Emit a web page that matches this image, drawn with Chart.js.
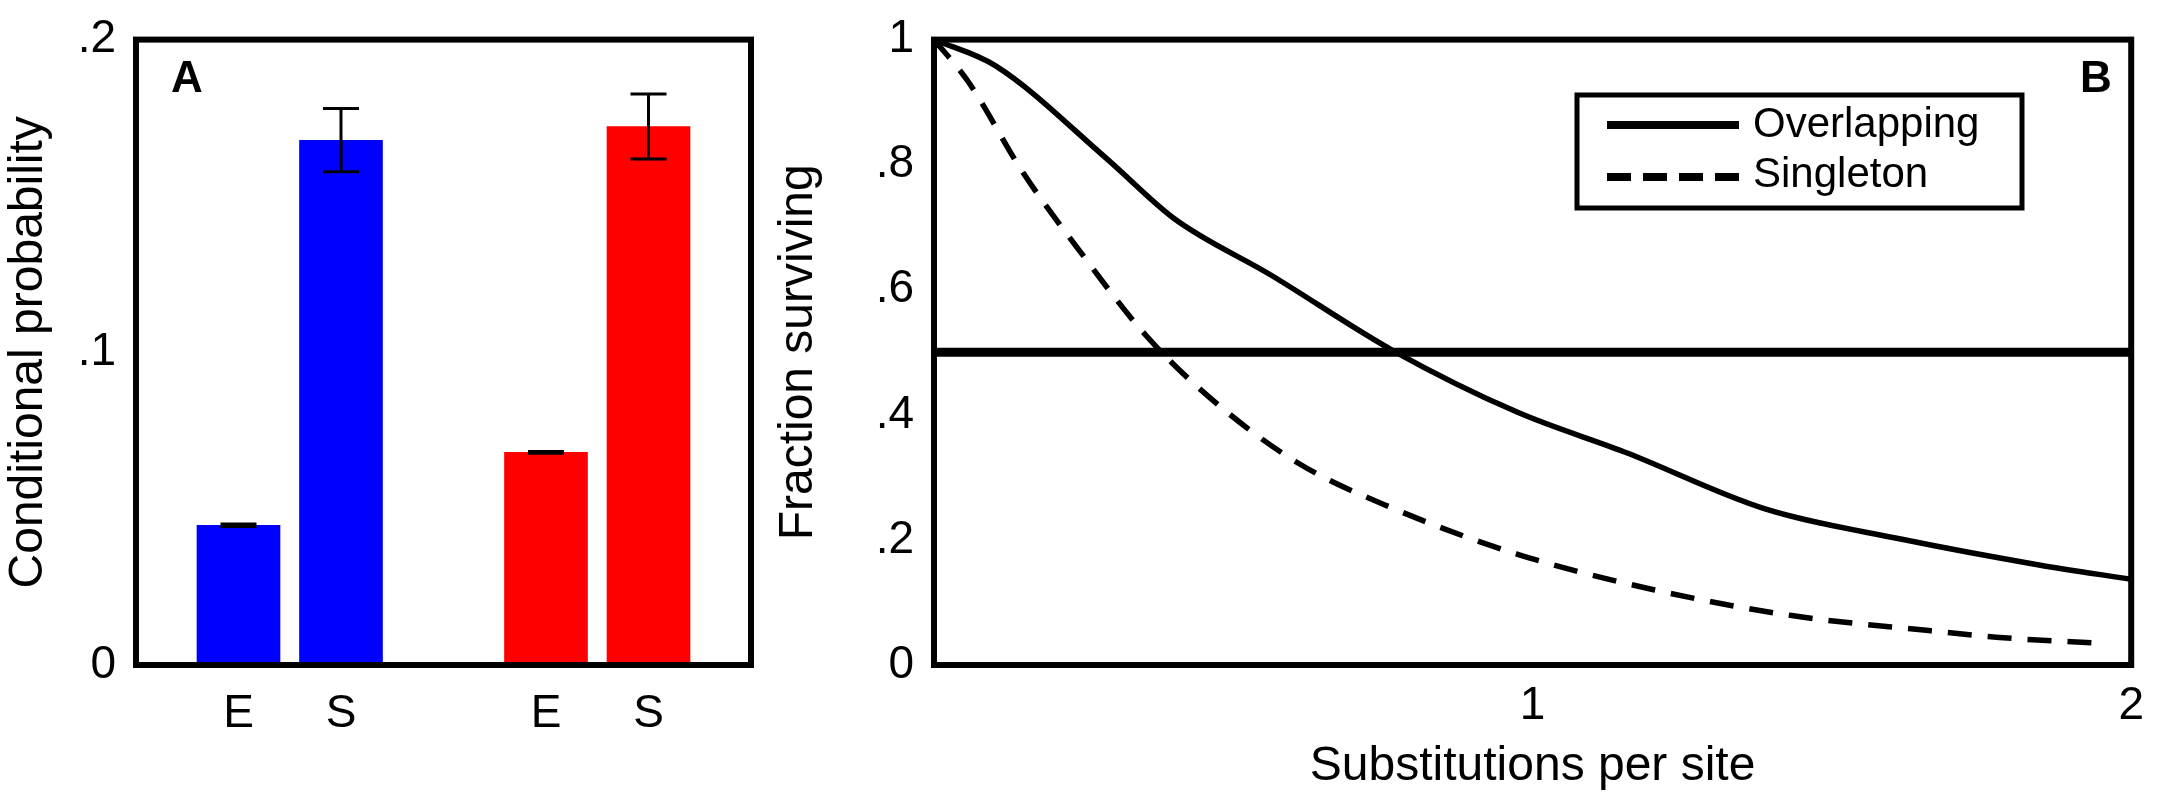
<!DOCTYPE html>
<html>
<head>
<meta charset="utf-8">
<script src="https://cdn.jsdelivr.net/npm/chart.js@4"></script>
<style>
  body { margin: 0; background: #fff; }
  #wrapA { position: absolute; left: 0; top: 0; width: 770px; height: 800px; }
  #wrapB { position: absolute; left: 770px; top: 0; width: 1388px; height: 800px; }
</style>
</head>
<body>
<div id="wrapA"><canvas id="chartA"></canvas></div>
<div id="wrapB"><canvas id="chartB"></canvas></div>
<script>
// panel A data
const barLabels = ['E', 'S', 'E', 'S'];
const barPos = [1, 2, 4, 5];
const barValues = [0.0447, 0.1678, 0.068, 0.1722];
const barErrLow = [0.0443, 0.1577, 0.0677, 0.1618];
const barErrHigh = [0.0451, 0.178, 0.0683, 0.1826];
const barColors = ['#0000ff', '#0000ff', '#ff0000', '#ff0000'];
const yTicksA = [0, 0.1, 0.2];

// panel B data
const overlapX = [0, 0.103, 0.287, 0.401, 0.562, 0.768, 0.975, 1.158, 1.387, 1.617, 1.846, 2];
const overlapY = [1, 0.958, 0.811, 0.714, 0.624, 0.502, 0.404, 0.339, 0.25, 0.201, 0.16, 0.137];
const singleX = [0, 0.057, 0.149, 0.241, 0.355, 0.47, 0.608, 0.768, 0.975, 1.204, 1.433, 1.662, 1.78, 1.96];
const singleY = [1, 0.933, 0.787, 0.665, 0.526, 0.42, 0.323, 0.25, 0.177, 0.12, 0.079, 0.055, 0.044, 0.034];
const thresholdY = 0.5;

const font = "'Liberation Sans', Arial, sans-serif";
Chart.defaults.font.family = font;
Chart.defaults.color = '#000';

function fmt(v) {
  if (v === 0) return '0';
  if (v === 1) return '1';
  return String(+v.toFixed(2)).replace(/^0/, '');
}

// frame + panel letter
const framePlugin = {
  id: 'frame',
  afterDraw(chart, args, opts) {
    const a = chart.chartArea, ctx = chart.ctx;
    ctx.save();
    ctx.strokeStyle = '#000';
    ctx.lineWidth = 6;
    ctx.strokeRect(a.left, a.top, a.right - a.left, a.bottom - a.top);
    ctx.font = 'bold 44px ' + font;
    ctx.fillStyle = '#000';
    ctx.textAlign = 'center';
    ctx.textBaseline = 'middle';
    ctx.fillText(opts.letter, opts.lx, opts.ly);
    ctx.restore();
  }
};

const errorPlugin = {
  id: 'errbars',
  afterDatasetsDraw(chart) {
    const x = chart.scales.x, y = chart.scales.y, ctx = chart.ctx;
    ctx.save();
    ctx.strokeStyle = '#000';
    ctx.lineWidth = 3;
    barPos.forEach((p, i) => {
      const px = x.getPixelForValue(p);
      const lo = y.getPixelForValue(barErrLow[i]);
      const hi = y.getPixelForValue(barErrHigh[i]);
      ctx.beginPath();
      ctx.moveTo(px, lo); ctx.lineTo(px, hi);
      ctx.moveTo(px - 18, lo); ctx.lineTo(px + 18, lo);
      ctx.moveTo(px - 18, hi); ctx.lineTo(px + 18, hi);
      ctx.stroke();
    });
    ctx.restore();
  }
};

new Chart(document.getElementById('chartA'), {
  type: 'bar',
  data: {
    datasets: [{
      data: barPos.map((p, i) => ({ x: p, y: barValues[i] })),
      backgroundColor: barColors,
      barThickness: 83
    }]
  },
  plugins: [framePlugin, errorPlugin],
  options: {
    responsive: true,
    maintainAspectRatio: false,
    animation: false,
    layout: { padding: { top: 35, right: 19 } },
    plugins: {
      legend: { display: false },
      tooltip: { enabled: false },
      frame: { letter: 'A', lx: 187, ly: 80 }
    },
    scales: {
      x: {
        type: 'linear', min: 0, max: 6, offset: false,
        grid: { display: false, offset: false },
        border: { display: false },
        afterBuildTicks: s => { s.ticks = barPos.map(v => ({ value: v })); },
        afterFit: s => { s.height = 135; },
        ticks: {
          font: { size: 46 },
          padding: 14,
          callback: v => barLabels[barPos.indexOf(v)] || ''
        }
      },
      y: {
        min: 0, max: 0.2,
        grid: { display: false },
        border: { display: false },
        afterBuildTicks: s => { s.ticks = yTicksA.map(v => ({ value: v })); },
        afterFit: s => { s.width = 136; },
        ticks: { font: { size: 46 }, padding: 12, callback: v => fmt(v) },
        title: { display: true, text: 'Conditional probability', font: { size: 48 }, padding: 0 }
      }
    }
  }
});

new Chart(document.getElementById('chartB'), {
  type: 'line',
  data: {
    datasets: [
      {
        data: [{ x: 0, y: thresholdY }, { x: 2, y: thresholdY }],
        borderColor: '#000', borderWidth: 9, pointRadius: 0
      },
      {
        data: overlapX.map((v, i) => ({ x: v, y: overlapY[i] })),
        borderColor: '#000', borderWidth: 5.5, pointRadius: 0, cubicInterpolationMode: 'monotone'
      },
      {
        data: singleX.map((v, i) => ({ x: v, y: singleY[i] })),
        borderColor: '#000', borderWidth: 5.5, pointRadius: 0, borderDash: [24, 16], cubicInterpolationMode: 'monotone'
      }
    ]
  },
  plugins: [framePlugin, {
    id: 'legendBox',
    afterDraw(chart) {
      const ctx = chart.ctx;
      const bx = 1577 - 770, by = 95, bw = 445, bh = 113;
      ctx.save();
      ctx.strokeStyle = '#000';
      ctx.lineWidth = 5;
      ctx.strokeRect(bx, by, bw, bh);
      ctx.font = '42px ' + font;
      ctx.fillStyle = '#000';
      ctx.textBaseline = 'middle';
      ctx.lineWidth = 8;
      ctx.beginPath(); ctx.moveTo(bx + 30, by + 30); ctx.lineTo(bx + 162, by + 30); ctx.stroke();
      ctx.setLineDash([24, 12]);
      ctx.beginPath(); ctx.moveTo(bx + 30, by + 82); ctx.lineTo(bx + 162, by + 82); ctx.stroke();
      ctx.fillText('Overlapping', bx + 176, by + 30);
      ctx.fillText('Singleton', bx + 176, by + 80);
      ctx.restore();
    }
  }],
  options: {
    responsive: true,
    maintainAspectRatio: false,
    animation: false,
    layout: { padding: { top: 35, right: 14 } },
    plugins: {
      legend: { display: false },
      tooltip: { enabled: false },
      frame: { letter: 'B', lx: 1326, ly: 80 }
    },
    scales: {
      x: {
        type: 'linear', min: 0, max: 2,
        grid: { drawOnChartArea: false, tickLength: 0 },
        border: { display: false },
        afterBuildTicks: s => { s.ticks = [{ value: 1 }, { value: 2 }]; },
        afterFit: s => { s.height = 135; },
        ticks: { font: { size: 46 }, padding: 14, callback: v => fmt(v) },
        title: { display: true, text: 'Substitutions per site', font: { size: 48 }, padding: { top: 2 } }
      },
      y: {
        min: 0, max: 1,
        grid: { display: false },
        border: { display: false },
        afterBuildTicks: s => { s.ticks = [0, 0.2, 0.4, 0.6, 0.8, 1].map(v => ({ value: v })); },
        afterFit: s => { s.width = 164; },
        ticks: { font: { size: 46 }, padding: 12, callback: v => fmt(v) },
        title: { display: true, text: 'Fraction surviving', font: { size: 48 }, padding: 0 }
      }
    }
  }
});
</script>
</body>
</html>
